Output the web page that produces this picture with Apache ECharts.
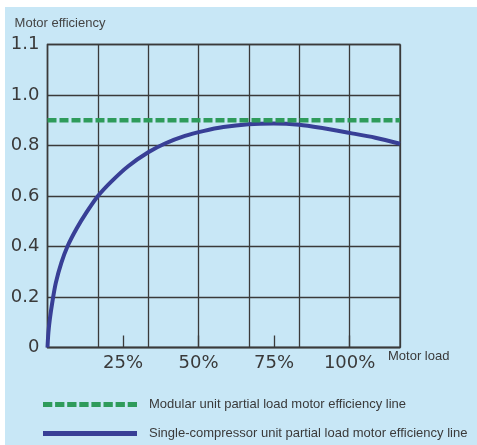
<!DOCTYPE html>
<html>
<head>
<meta charset="utf-8">
<script src="https://cdn.jsdelivr.net/npm/echarts@6/dist/echarts.min.js"></script>
<style>
html,body{margin:0;padding:0;background:#ffffff;}
#chart{width:477px;height:445px;}
</style>
</head>
<body>
<div id="chart"></div>
<script>
// ---- data ----
var yTickValues = [0, 0.2, 0.4, 0.6, 0.8, 1.0, 1.2];
var yTickLabels = ['0', '0.2', '0.4', '0.6', '0.8', '1.0', '1.1'];
var xTickLabels = ['25%', '50%', '75%', '100%'];
var xMax = 700 / 6;           // load axis extends to ~116.7 %
var yName = 'Motor efficiency';
var xName = 'Motor load';
var modularName = 'Modular unit partial load motor efficiency line';
var singleName = 'Single-compressor unit partial load motor efficiency line';
var modularLoad = [0, 700 / 6];
var modularEff = [0.9, 0.9];
var singleLoad = [0, 0.3, 0.8, 1.6, 2.75, 4.6, 6.6, 9.6, 12.9, 16.7, 21.2, 26.7, 33.35, 38.9, 45.5, 51.5, 58.2, 66.5, 74.8, 83.3, 91.4, 100, 108.5, 700 / 6];
var singleEff  = [0, 0.06, 0.115, 0.18, 0.256, 0.336, 0.4, 0.47, 0.535, 0.6, 0.658, 0.718, 0.773, 0.808, 0.838, 0.857, 0.873, 0.884, 0.887, 0.882, 0.868, 0.85, 0.831, 0.807];

function zip(a, b) { return a.map(function (v, i) { return [v, b[i]]; }); }

// legend icon paths (shape only)
function dashPath(n, w, h) {
  var gap = 2.8, d = (w - gap * (n - 1)) / n, p = '';
  for (var i = 0; i < n; i++) { var x = i * (d + gap); p += 'M' + x.toFixed(2) + ' 0h' + d.toFixed(2) + 'v' + h + 'h-' + d.toFixed(2) + 'Z'; }
  return 'path://' + p;
}

var chart = echarts.init(document.getElementById('chart'), null, { renderer: 'canvas' });
var gridColor = '#3a3a3a';
var textFont = 'Liberation Sans, Arial, sans-serif';
var option = {
  backgroundColor: '#ffffff',
  animation: false,
  graphic: [{
    type: 'rect', left: 5, top: 7, z: -10, silent: true,
    shape: { width: 472, height: 438 },
    style: { fill: '#c8e7f6' }
  }],
  title: [{
    text: xName, left: 388, top: 350, padding: 0,
    textStyle: { fontFamily: textFont, fontSize: 13, fontWeight: 'normal', color: '#3a3a3a' }
  }],
  grid: {
    left: 47.5, top: 44.5, width: 352.5, height: 303,
    show: true, borderColor: gridColor, borderWidth: 1.3, backgroundColor: 'transparent'
  },
  legend: {
    orient: 'vertical', left: 43, top: 398, padding: 0,
    itemWidth: 94, itemHeight: 5, itemGap: 16, symbolKeepAspect: false,
    itemStyle: { borderWidth: 0 },
    data: [{ name: modularName, icon: dashPath(8, 94, 5) }, { name: singleName, icon: 'rect' }],
    textStyle: { fontFamily: textFont, fontSize: 13, color: '#3a3a3a', padding: [0, 0, 0, 7] }
  },
  xAxis: [{
    type: 'value', min: 0, max: xMax, interval: 100 / 6,
    axisLine: { show: true, lineStyle: { color: gridColor, width: 1.3 } },
    axisTick: { show: false }, axisLabel: { show: false },
    splitLine: { show: true, lineStyle: { color: gridColor, width: 1.3 } }
  }, {
    type: 'value', min: 0, max: xMax, interval: 25, position: 'bottom',
    axisLine: { show: false },
    axisTick: { show: true, inside: true, length: 12, lineStyle: { color: gridColor, width: 1.3 } },
    splitLine: { show: false },
    axisLabel: {
      show: true, showMinLabel: false, showMaxLabel: false, margin: 7,
      fontFamily: 'DejaVu Sans', fontSize: 18, color: '#3a3a3a',
      formatter: function (v) { var i = Math.round(v / 25) - 1; return xTickLabels[i] || ''; }
    }
  }],
  yAxis: {
    type: 'value', min: 0, max: 1.2, interval: 0.2,
    axisLine: { show: true, lineStyle: { color: gridColor, width: 1.3 } },
    axisTick: { show: false },
    splitLine: { show: true, lineStyle: { color: gridColor, width: 1.3 } },
    axisLabel: {
      margin: 8, fontFamily: 'DejaVu Sans', fontSize: 18, color: '#3a3a3a',
      formatter: function (v) {
        for (var i = 0; i < yTickValues.length; i++) { if (Math.abs(yTickValues[i] - v) < 1e-6) return yTickLabels[i]; }
        return '';
      }
    },
    name: yName, nameLocation: 'end', nameGap: 15,
    nameTextStyle: { fontFamily: textFont, fontSize: 13, color: '#444444', align: 'center', padding: [0, 0, 0, 25] }
  },
  series: [{
    name: singleName, type: 'line', xAxisIndex: 0, data: zip(singleLoad, singleEff),
    smooth: 0.3, symbol: 'none', z: 3,
    lineStyle: { color: '#383f96', width: 4 }, itemStyle: { color: '#383f96' }
  }, {
    name: modularName, type: 'line', xAxisIndex: 0, data: zip(modularLoad, modularEff),
    symbol: 'none', z: 4,
    lineStyle: { color: '#2e9b5b', width: 4.5, type: [9, 3] }, itemStyle: { color: '#2e9b5b' }
  }]
};
chart.setOption(option);
</script>
</body>
</html>
